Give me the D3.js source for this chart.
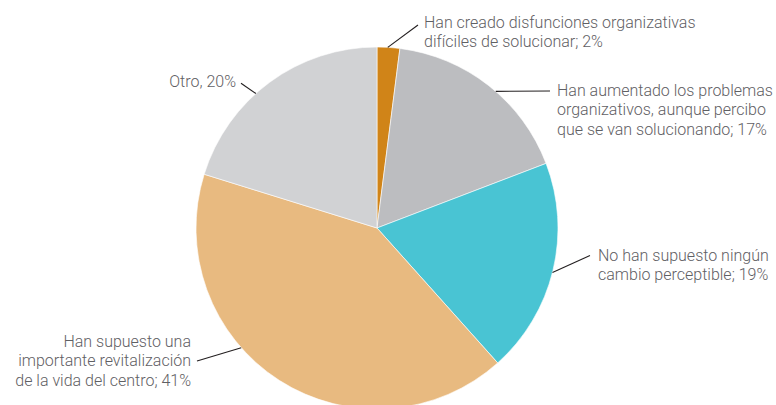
<!DOCTYPE html>
<html>
<head>
<meta charset="utf-8">
<script src="https://cdn.jsdelivr.net/npm/d3@7"></script>
<style>
  html, body { margin: 0; padding: 0; background: #ffffff; }
  svg { display: block; }
  text { font-family: Roboto, "Noto Sans", sans-serif; font-weight: 300; fill: #5f6064; }
</style>
</head>
<body>
<svg id="chart" width="776" height="405"></svg>
<script>
// ---- data ----
const categories = [
  "Han creado disfunciones organizativas difíciles de solucionar",
  "Han aumentado los problemas organizativos, aunque percibo que se van solucionando",
  "No han supuesto ningún cambio perceptible",
  "Han supuesto una importante revitalización de la vida del centro",
  "Otro"
];
const values = [2, 17, 19, 41, 20];
const labelLines = [
  ["Han creado disfunciones organizativas", "difíciles de solucionar; 2%"],
  ["Han aumentado los problemas", "organizativos, aunque percibo", "que se van solucionando; 17%"],
  ["No han supuesto ningún", "cambio perceptible; 19%"],
  ["Han supuesto una", "importante revitalización", "de la vida del centro; 41%"],
  ["Otro, 20%"]
];

// ---- styles / layout ----
const colors = ["#d08418", "#bcbdc0", "#49c4d3", "#e8ba80", "#d1d2d4"];
const cx = 377, cy = 228, R = 181;
const fontSize = 16, lineH = 19.6;
// label layout: anchor angle on rim (deg, clockwise from top), leader end, text pos
const labelLayout = [
  { angle: 3.4,   end: [418, 25],  tx: 424, ty: 27.5,  align: "start" },
  { angle: 41,    end: [550, 91],  tx: 557, ty: 95.5,  align: "start" },
  { angle: 104.2, end: [590, 255.5], tx: 598, ty: 260.5, align: "start" },
  { angle: 228.6, end: [197, 361], tx: 191, ty: 346.5, align: "end" },
  { angle: 318,   end: [241, 83.3], tx: 236, ty: 86.5, align: "end" }
];

const svg = d3.select("#chart");
const g = svg.append("g").attr("transform", `translate(${cx},${cy})`);

const pie = d3.pie().sort(null).value(d => d)(values);
const arc = d3.arc().innerRadius(0).outerRadius(R);

g.selectAll("path.slice")
  .data(pie)
  .join("path")
  .attr("class", "slice")
  .attr("d", arc)
  .attr("fill", (d, i) => colors[i])
  .attr("stroke", "#ffffff")
  .attr("stroke-width", 0.6);

// leader lines
svg.selectAll("line.leader")
  .data(labelLayout)
  .join("line")
  .attr("class", "leader")
  .attr("x1", d => cx + R * Math.sin(d.angle * Math.PI / 180))
  .attr("y1", d => cy - R * Math.cos(d.angle * Math.PI / 180))
  .attr("x2", d => d.end[0])
  .attr("y2", d => d.end[1])
  .attr("stroke", "#231f20")
  .attr("stroke-width", 1.1);

// labels
labelLayout.forEach((L, i) => {
  const t = svg.append("text")
    .attr("x", L.tx)
    .attr("y", L.ty)
    .attr("text-anchor", L.align)
    .style("font-size", fontSize + "px");
  labelLines[i].forEach((ln, j) => {
    t.append("tspan")
      .attr("x", L.tx)
      .attr("y", L.ty + j * lineH)
      .text(ln);
  });
});
</script>
</body>
</html>
